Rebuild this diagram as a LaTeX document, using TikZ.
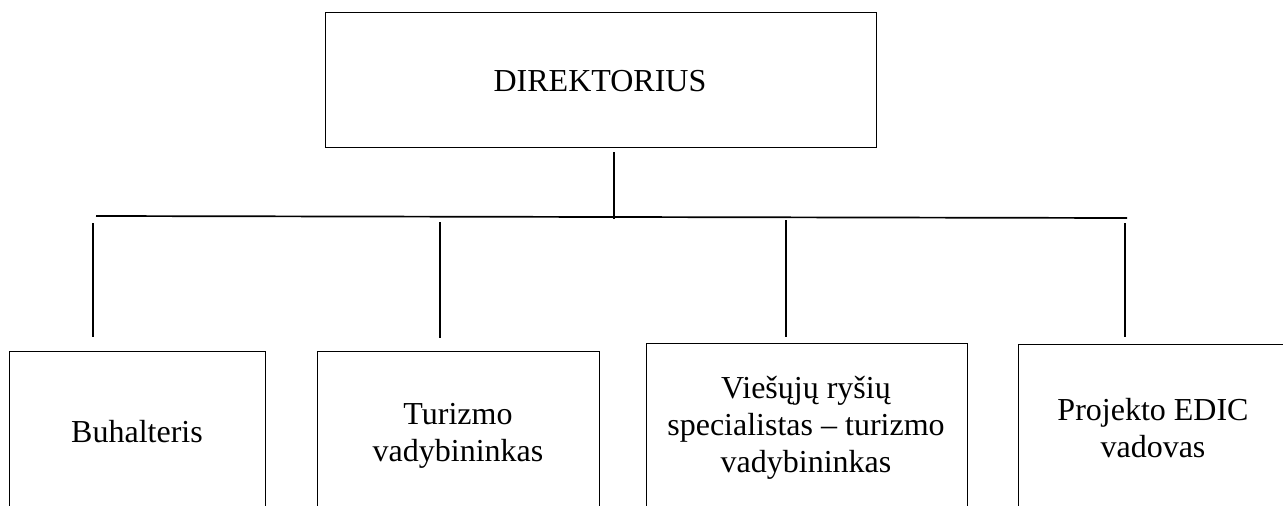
\documentclass[tikz,border=0pt]{standalone}
\usepackage{fontspec}
\setmainfont{Liberation Serif}
\begin{document}
\begin{tikzpicture}[x=1pt,y=-1pt,
  boxst/.style={draw, line width=1.4pt, inner sep=0pt, anchor=north west},
  lbl/.style={font=\fontsize{32}{36.8}\selectfont, align=center, anchor=base, inner sep=0pt},
  conn/.style={line width=1.7pt}]
\useasboundingbox (0,0) rectangle (1283,506);
\clip (0,0) rectangle (1283,506);
% boxes
\node[boxst, minimum width=551pt, minimum height=135pt] (dir) at (325,12) {};
\node[boxst, minimum width=256pt, minimum height=170pt] (b1) at (9,351) {};
\node[boxst, minimum width=282pt, minimum height=170pt] (b2) at (317,351) {};
\node[boxst, minimum width=321pt, minimum height=178pt] (b3) at (646,343) {};
\node[boxst, minimum width=280pt, minimum height=177pt] (b4) at (1018,344) {};
% labels (anchor base = baseline of the last line)
\node[lbl] (tdir) at (600,91) {DIREKTORIUS};
\node[lbl] (t1) at (137,442) {Buhalteris};
\node[lbl] (t2) at (458,461) {Turizmo\\vadybininkas};
\node[lbl] (t3) at (806,472) {Viešųjų ryšių\\specialistas – turizmo\\vadybininkas};
\node[lbl] (t4) at (1153,457) {Projekto EDIC\\vadovas};
% connector points
\coordinate (d0) at (614,152);
\coordinate (d1) at (614,219);
\coordinate (hl) at (96,216);
\coordinate (hr) at (1127,218);
\coordinate (v1a) at (93,223);  \coordinate (v1b) at (93,337);
\coordinate (v2a) at (440,222); \coordinate (v2b) at (440,338);
\coordinate (v3a) at (786,220); \coordinate (v3b) at (786,337);
\coordinate (v4a) at (1125,223);\coordinate (v4b) at (1125,337);
\draw[conn] (d0) -- (d1);
\draw[conn] (hl) -- (hr);
\draw[conn] (v1a) -- (v1b);
\draw[conn] (v2a) -- (v2b);
\draw[conn] (v3a) -- (v3b);
\draw[conn] (v4a) -- (v4b);
\end{tikzpicture}
\end{document}
